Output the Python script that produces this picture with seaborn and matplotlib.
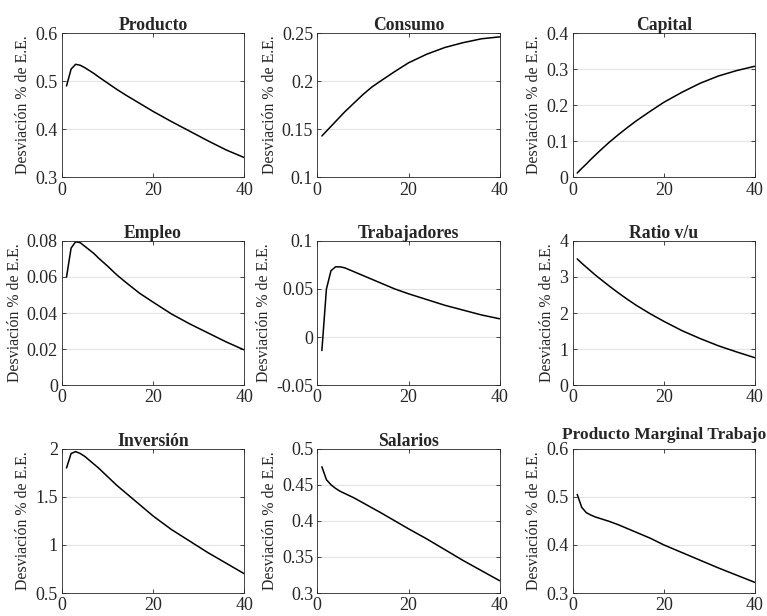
import numpy as np
import pandas as pd
import seaborn as sns
import matplotlib
matplotlib.use("Agg")
import matplotlib.pyplot as plt

# periods
periods = [1, 2, 3, 4, 5, 6, 7, 8, 10, 12, 14, 17, 20, 24, 28, 32, 36, 40]

producto = [0.490, 0.525, 0.535, 0.533, 0.528, 0.522, 0.516, 0.509, 0.496, 0.483, 0.471, 0.454, 0.437, 0.416, 0.396, 0.376, 0.357, 0.341]
consumo = [0.143, 0.148, 0.153, 0.158, 0.163, 0.168, 0.1725, 0.177, 0.186, 0.194, 0.2005, 0.210, 0.219, 0.228, 0.235, 0.240, 0.244, 0.246]
capital = [0.012, 0.025, 0.037, 0.050, 0.062, 0.074, 0.0855, 0.097, 0.118, 0.138, 0.157, 0.183, 0.208, 0.236, 0.261, 0.281, 0.296, 0.308]
empleo = [0.060, 0.076, 0.0795, 0.079, 0.077, 0.075, 0.073, 0.0705, 0.066, 0.0612, 0.057, 0.051, 0.046, 0.0395, 0.034, 0.029, 0.024, 0.0195]
trabajadores = [-0.014, 0.050, 0.069, 0.073, 0.073, 0.072, 0.070, 0.068, 0.064, 0.060, 0.056, 0.050, 0.045, 0.039, 0.033, 0.028, 0.023, 0.019]
ratio_vu = [3.50, 3.38, 3.27, 3.16, 3.05, 2.95, 2.85, 2.75, 2.56, 2.38, 2.21, 1.98, 1.77, 1.51, 1.29, 1.09, 0.92, 0.76]
inversion = [1.80, 1.95, 1.97, 1.95, 1.92, 1.88, 1.84, 1.80, 1.71, 1.62, 1.54, 1.42, 1.30, 1.16, 1.04, 0.92, 0.81, 0.70]
salarios = [0.475, 0.457, 0.450, 0.445, 0.441, 0.438, 0.435, 0.432, 0.425, 0.418, 0.411, 0.400, 0.389, 0.375, 0.360, 0.345, 0.331, 0.317]
pmg_trabajo = [0.505, 0.478, 0.467, 0.462, 0.458, 0.455, 0.452, 0.449, 0.442, 0.434, 0.426, 0.414, 0.400, 0.384, 0.368, 0.352, 0.337, 0.322]

titles = ["Producto", "Consumo", "Capital", "Empleo", "Trabajadores", "Ratio v/u",
          "Inversión", "Salarios", "Producto Marginal Trabajo"]
series = [producto, consumo, capital, empleo, trabajadores, ratio_vu,
          inversion, salarios, pmg_trabajo]
ylims = [(0.3, 0.6), (0.1, 0.25), (0, 0.4), (0, 0.08), (-0.05, 0.1), (0, 4),
         (0.5, 2), (0.3, 0.5), (0.3, 0.6)]
yticks = [[0.3, 0.4, 0.5, 0.6], [0.1, 0.15, 0.2, 0.25], [0, 0.1, 0.2, 0.3, 0.4],
          [0, 0.02, 0.04, 0.06, 0.08], [-0.05, 0, 0.05, 0.1], [0, 1, 2, 3, 4],
          [0.5, 1, 1.5, 2], [0.3, 0.35, 0.4, 0.45, 0.5], [0.3, 0.4, 0.5, 0.6]]
yticklabels = [["0.3", "0.4", "0.5", "0.6"], ["0.1", "0.15", "0.2", "0.25"],
               ["0", "0.1", "0.2", "0.3", "0.4"], ["0", "0.02", "0.04", "0.06", "0.08"],
               ["-0.05", "0", "0.05", "0.1"], ["0", "1", "2", "3", "4"],
               ["0.5", "1", "1.5", "2"], ["0.3", "0.35", "0.4", "0.45", "0.5"],
               ["0.3", "0.4", "0.5", "0.6"]]

sns.set_style("ticks")
plt.rcParams["font.family"] = ["Liberation Serif", "DejaVu Serif"]

fig, axes = plt.subplots(3, 3, figsize=(7.67, 6.16), dpi=100)
fig.subplots_adjust(left=0.0808, right=0.9844, top=0.9464, bottom=0.0373,
                    wspace=0.40, hspace=0.44)

for ax, title, vals, yl, yt, ytl in zip(axes.flat, titles, series, ylims, yticks, yticklabels):
    df = pd.DataFrame({"t": periods, "v": vals})
    sns.lineplot(data=df, x="t", y="v", ax=ax, color="black", linewidth=1.1)
    ax.set_xlim(0, 40)
    ax.set_ylim(*yl)
    ax.set_xticks([0, 20, 40])
    ax.set_yticks(yt)
    ax.set_yticklabels(ytl)
    for g in yt[1:-1]:
        ax.axhline(g, color="#e3e3e3", linewidth=0.8, zorder=0)
    if len(title) > 15:
        # long title sits just above the top tick label
        ax.set_title(title, fontsize=12.4, fontweight="bold", pad=7)
    else:
        ax.set_title(title, fontsize=12.7, fontweight="bold", pad=2)
    ax.set_xlabel("")
    ax.set_ylabel("Desviación % de E.E.", fontsize=11.4, labelpad=3, color="#262626")
    ax.tick_params(direction="in", top=True, right=True, length=3, width=0.6,
                   labelsize=13, colors="#262626", pad=3)
    for s in ax.spines.values():
        s.set_visible(True)
        s.set_linewidth(0.6)
        s.set_color("#262626")

fig.savefig("out.png", dpi=100)
